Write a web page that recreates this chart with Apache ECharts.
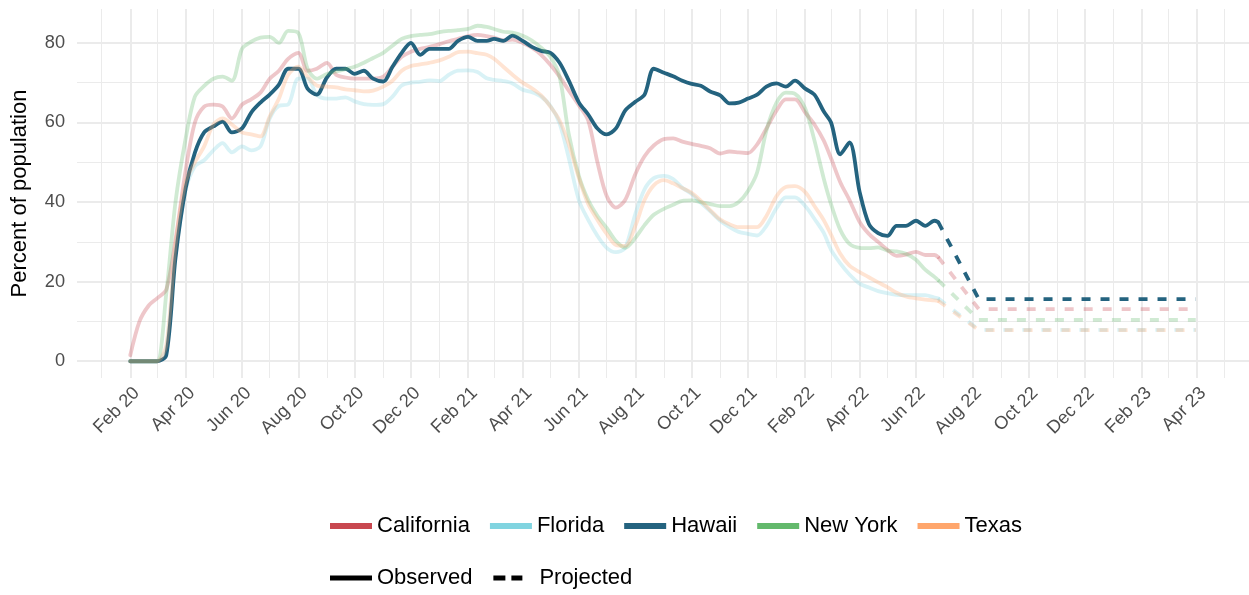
<!DOCTYPE html>
<html>
<head>
<meta charset="utf-8">
<title>Percent of population</title>
<script src="https://cdn.jsdelivr.net/npm/echarts@6/dist/echarts.min.js"></script>
<style>
  html, body { margin: 0; padding: 0; background: #fff; }
  #chart { width: 1249px; height: 595px; }
</style>
</head>
<body>
<div id="chart"></div>
<script>
// observed values, read every 1st / 11th / 21st of the month
const obsDates = [
  '2020-02-01','2020-02-11','2020-02-21','2020-03-01','2020-03-11','2020-03-21',
  '2020-04-01','2020-04-11','2020-04-21','2020-05-01','2020-05-11','2020-05-21',
  '2020-06-01','2020-06-11','2020-06-21','2020-07-01','2020-07-11','2020-07-21',
  '2020-08-01','2020-08-11','2020-08-21','2020-09-01','2020-09-11','2020-09-21',
  '2020-10-01','2020-10-11','2020-10-21','2020-11-01','2020-11-11','2020-11-21',
  '2020-12-01','2020-12-11','2020-12-21','2021-01-01','2021-01-11','2021-01-21',
  '2021-02-01','2021-02-11','2021-02-21','2021-03-01','2021-03-11','2021-03-21',
  '2021-04-01','2021-04-11','2021-04-21','2021-05-01','2021-05-11','2021-05-21',
  '2021-06-01','2021-06-11','2021-06-21','2021-07-01','2021-07-11','2021-07-21',
  '2021-08-01','2021-08-11','2021-08-21','2021-09-01','2021-09-11','2021-09-21',
  '2021-10-01','2021-10-11','2021-10-21','2021-11-01','2021-11-11','2021-11-21',
  '2021-12-01','2021-12-11','2021-12-21','2022-01-01','2022-01-11','2022-01-21',
  '2022-02-01','2022-02-11','2022-02-21','2022-03-01','2022-03-11','2022-03-21',
  '2022-04-01','2022-04-11','2022-04-21','2022-05-01','2022-05-11','2022-05-21',
  '2022-06-01','2022-06-11','2022-06-21','2022-06-25'
];

const california = [
  1.5, 10, 14,  15.8, 18, 30.5,  48, 60, 64,  64.5, 64, 61,
  64.5, 65.8, 67.5,  71, 73, 76,  77.5, 73, 73.5,  75, 72, 71.3,
  71, 71, 71,  71.5, 74, 76.5,  77.8, 78.5, 79,  79.7, 80.4, 81,
  81.7, 82, 81.7,  81.3, 80.6, 80.8,  80, 78.8, 77,  74.5, 71.5, 68,
  64.3, 60.5, 50,  41.5, 38.6, 40.5,  47, 51.5, 54.2,  55.8, 56, 55.2,
  54.6, 54.1, 53.5,  52.2, 52.7, 52.5,  52.3, 54.5, 58.5,  63, 65.8, 65.8,
  62.5, 59.5, 55.5,  51, 45, 40.5,  35, 32, 30,  28, 26.5, 26.8,
  27.5, 26.7, 26.7, 26.2
];
const florida = [
  0, 0, 0,  0, 3, 27,  43, 49, 50.5,  53, 54.8, 52.5,
  54, 53, 54,  61, 64.2, 64.5,  71, 71, 67,  66, 66, 66.3,
  65.3, 64.6, 64.4,  64.6, 66.5, 69.3,  70, 70.2, 70.6,  70.4, 72, 73,
  73.1, 72.7, 71.1,  70.7, 70.4, 69.8,  68.2, 67.6, 66.5,  64.2, 59.8, 51,
  40.4, 35.5, 31.5,  28.5, 27.4, 28.5,  37, 43.2, 46,  46.6, 45.8, 43.6,
  42, 39.8, 37.7,  35.3, 33.7, 32.5,  32, 31.6, 34,  38.5, 41.2, 41.2,
  39, 35.8, 32.3,  28, 24.6, 21.8,  19.5, 18.5, 17.6,  17.1, 16.7, 16.6,
  16.6, 16.6, 16, 15.8
];
const hawaii = [
  0, 0, 0,  0, 1.5, 26,  43.5, 52.4, 57.5,  59, 60.2, 57.5,
  58.5, 62.5, 65,  67, 69.5, 73.5,  73.5, 68.5, 67,  71.3, 73.5, 73.5,
  72.2, 73, 71,  70.3, 74, 77.5,  80, 77, 78.5,  78.5, 78.5, 80.5,
  81.5, 80.5, 80.5,  81, 80.5, 81.8,  80.5, 79, 78,  77.5, 75, 70.5,
  65, 62, 58.5,  57, 58.5, 63,  65.2, 67, 73.5,  72.5, 71.6, 70.5,
  69.7, 69.2, 67.8,  66.8, 64.8, 65,  66, 67, 69,  69.8, 69, 70.5,
  68.5, 67, 62.8,  60, 52, 55,  42.5, 34.5, 32.2,  31.5, 34, 34,
  35.3, 34, 35.3, 35
];
const newYork = [
  0, 0, 0,  0, 17, 40,  56, 66.5, 69.2,  71, 71.5, 70.5,
  78.5, 80.3, 81.3,  81.5, 80, 83,  82.5, 73.5, 71,  72.2, 72.8, 73.4,
  74, 75, 76.2,  77.5, 79.3, 81,  81.7, 82, 82.2,  82.7, 83, 83.2,
  83.5, 84.3, 84,  83.5, 82.8, 82.6,  81.8, 80.6, 78.8,  76.5, 71.5, 57,
  46.5, 40.5, 36.5,  33.5, 30.2, 28.5,  31, 34.2, 36.8,  38.3, 39.3, 40.3,
  40.4, 40, 39.5,  39, 39, 40,  42.8, 47.5, 58,  65, 67.5, 67.2,
  63.5, 55.5, 46,  39.5, 33, 29.5,  28.5, 28.4, 28.6,  27.8, 27.6, 27,
  25.5, 23, 21.2, 20.4
];
const texas = [
  0, 0, 0,  0, 4, 29,  45, 50, 54,  59.5, 61, 59.5,
  57.5, 57, 56.5,  61.5, 66, 72,  74, 71.5, 69.3,  69, 68.8, 68.3,
  68.1, 67.8, 68,  69, 70.5, 73,  74.2, 74.6, 75,  75.6, 76.5, 77.7,
  77.8, 77.4, 77,  76, 74, 72,  70, 68.6, 66.8,  64, 60.5, 54.5,
  46, 39.5, 35.5,  32, 29.2, 29,  34, 40.5, 44.2,  45.5, 44.7, 43.5,
  42.3, 40.3, 38,  35.6, 34.4, 33.7,  33.7, 33.7, 36.5,  41.5, 43.8, 44,
  42.5, 39, 35.5,  31.8, 27, 24,  22.4, 21.1, 19.8,  18.6, 17.2, 16.3,
  15.8, 15.5, 15.3, 15.2
];

// projection: last observed value, then flat level
const projDates = ['2022-06-25', '2022-08-08', '2023-03-31'];
const projCalifornia = [26.2, 13.1, 13.1];
const projFlorida = [15.8, 7.9, 7.9];
const projHawaii = [35, 15.6, 15.6];
const projNewYork = [20.4, 10.4, 10.4];
const projTexas = [15.2, 7.8, 7.8];

// axis ticks
const xTicks = [
  '2020-02-01','2020-04-01','2020-06-01','2020-08-01','2020-10-01','2020-12-01',
  '2021-02-01','2021-04-01','2021-06-01','2021-08-01','2021-10-01','2021-12-01',
  '2022-02-01','2022-04-01','2022-06-01','2022-08-01','2022-10-01','2022-12-01',
  '2023-02-01','2023-04-01'
];
const xMinorTicks = [
  '2020-01-01','2020-03-01','2020-05-01','2020-07-01','2020-09-01','2020-11-01',
  '2021-01-01','2021-03-01','2021-05-01','2021-07-01','2021-09-01','2021-11-01',
  '2022-01-01','2022-03-01','2022-05-01','2022-07-01','2022-09-01','2022-11-01',
  '2023-01-01','2023-03-01','2023-05-01'
];
const yTicks = [0, 20, 40, 60, 80];
const yMinorTicks = [10, 30, 50, 70];
const monthNames = ['Jan','Feb','Mar','Apr','May','Jun','Jul','Aug','Sep','Oct','Nov','Dec'];

const FONT = '"Liberation Sans", Arial, Helvetica, sans-serif';
const GRID_COLOR = '#EBEBEB';

const states = [
  { name: 'California', color: '#C8474F', opacity: 0.3, obs: california, proj: projCalifornia },
  { name: 'Florida', color: '#80D4E0', opacity: 0.3, obs: florida, proj: projFlorida },
  { name: 'Hawaii', color: '#24637F', opacity: 1, obs: hawaii, proj: projHawaii },
  { name: 'New York', color: '#63B96C', opacity: 0.3, obs: newYork, proj: projNewYork },
  { name: 'Texas', color: '#FFA66C', opacity: 0.3, obs: texas, proj: projTexas }
];

// dates become day timestamps on a value axis
const t = s => echarts.time.parse(s).getTime();
const xStart = t(obsDates[0]), xEnd = t(projDates[projDates.length - 1]);
const xPad = (xEnd - xStart) * 0.05;
let yMax = 0;
states.forEach(s => { yMax = Math.max(yMax, ...s.obs, ...s.proj); });
const yPad = yMax * 0.05;

let series = [];
states.forEach(s => {
  series.push({
    name: s.name, type: 'line', xAxisIndex: 0, yAxisIndex: 0,
    data: obsDates.map((d, i) => [t(d), s.obs[i]]),
    showSymbol: false, symbol: 'none', smooth: 0.3, silent: true,
    itemStyle: { color: s.color },
    lineStyle: { color: s.color, width: 3.8, opacity: s.opacity, cap: 'round', join: 'round' }
  });
});
states.forEach(s => {
  series.push({
    name: s.name, type: 'line', xAxisIndex: 0, yAxisIndex: 0,
    data: projDates.map((d, i) => [t(d), s.proj[i]]),
    showSymbol: false, symbol: 'none', silent: true,
    itemStyle: { color: s.color },
    lineStyle: { color: s.color, width: 3.8, opacity: s.opacity, type: [9, 10], cap: 'butt' }
  });
});
// legend-only entries for the line type
series.push({ name: 'Observed', type: 'line', data: [], itemStyle: { color: '#000' }, lineStyle: { color: '#000' } });
series.push({ name: 'Projected', type: 'line', data: [], itemStyle: { color: '#000' }, lineStyle: { color: '#000' } });

const dashIcon = 'path://M0,0H0.01V0.01H0Z M1,0H13V5H1Z M19,0H30V5H19Z M42,5H41.99V4.99H42Z';

const chart = echarts.init(document.getElementById('chart'), null, { renderer: 'canvas' });
chart.setOption({
  animation: false,
  backgroundColor: '#fff',
  textStyle: { fontFamily: FONT },
  grid: { left: 77, right: 0, top: 9, bottom: 217, containLabel: false, outerBoundsMode: 'none' },
  xAxis: [{
    type: 'value', min: xStart - xPad, max: xEnd + xPad,
    axisLine: { show: false }, axisTick: { show: false, customValues: xTicks.map(t) },
    axisLabel: {
      customValues: xTicks.map(t), rotate: 45, margin: 6, verticalAlign: 'top', align: 'right',
      fontSize: 18.2, color: '#4D4D4D', fontFamily: FONT,
      formatter: v => { const d = new Date(v); return monthNames[d.getMonth()] + ' ' + String(d.getFullYear()).slice(2); }
    },
    splitLine: { show: true, lineStyle: { color: GRID_COLOR, width: 2 } }
  }, {
    type: 'value', min: xStart - xPad, max: xEnd + xPad, position: 'bottom',
    axisLine: { show: false }, axisTick: { show: false, customValues: xMinorTicks.map(t) },
    axisLabel: { show: false },
    splitLine: { show: true, lineStyle: { color: GRID_COLOR, width: 1 } }
  }],
  yAxis: [{
    type: 'value', min: -yPad, max: yMax + yPad,
    name: 'Percent of population', nameLocation: 'middle', nameRotate: 90, nameGap: 46,
    nameTextStyle: { fontSize: 22, color: '#000', fontFamily: FONT },
    axisLine: { show: false }, axisTick: { show: false, customValues: yTicks },
    axisLabel: { customValues: yTicks, margin: 12, fontSize: 18.2, color: '#4D4D4D', fontFamily: FONT },
    splitLine: { show: true, lineStyle: { color: GRID_COLOR, width: 2 } }
  }, {
    type: 'value', min: -yPad, max: yMax + yPad, position: 'left',
    axisLine: { show: false }, axisTick: { show: false, customValues: yMinorTicks },
    axisLabel: { show: false },
    splitLine: { show: true, lineStyle: { color: GRID_COLOR, width: 1 } }
  }],
  legend: [{
    data: states.map(s => ({ name: s.name, icon: 'rect', itemStyle: { color: s.color, opacity: 1, borderWidth: 0 } })),
    left: 330, top: 515, padding: 0, orient: 'horizontal',
    itemWidth: 42, itemHeight: 6, itemGap: 20, selectedMode: false,
    textStyle: { fontSize: 22, color: '#000', fontFamily: FONT }
  }, {
    data: [
      { name: 'Observed', icon: 'rect', itemStyle: { color: '#000', borderWidth: 0 } },
      { name: 'Projected', icon: dashIcon, itemStyle: { color: '#000', borderWidth: 0 } }
    ],
    left: 330, top: 567, padding: 0, orient: 'horizontal',
    itemWidth: 42, itemHeight: 5, itemGap: 20, selectedMode: false,
    textStyle: { fontSize: 22, color: '#000', fontFamily: FONT }
  }],
  series: series
});
</script>
</body>
</html>
